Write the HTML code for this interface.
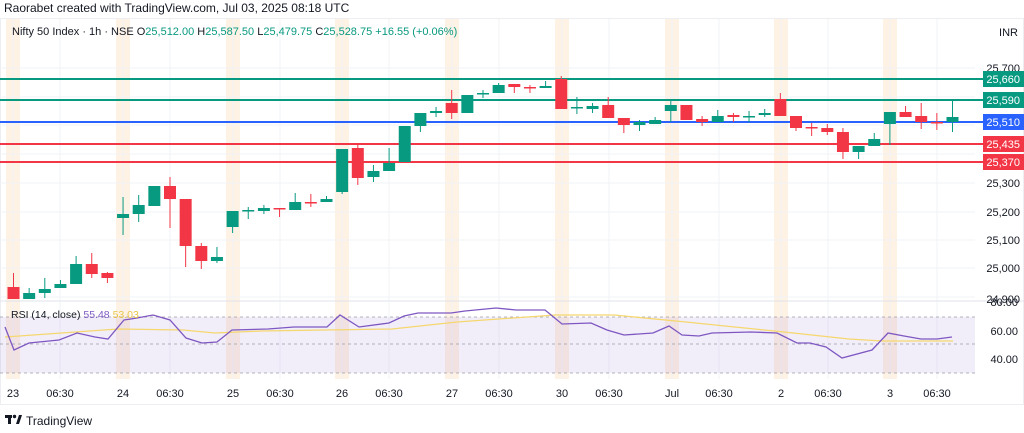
<!DOCTYPE html>
<html><head><meta charset="utf-8">
<style>
html,body{margin:0;padding:0;background:#fff;width:1024px;height:433px;overflow:hidden;font-family:"Liberation Sans",sans-serif;}
svg{position:absolute;left:0;top:0}
</style></head><body>
<svg id="s" width="1024" height="433" xmlns="http://www.w3.org/2000/svg"></svg>
<script>
const s=document.getElementById('s');let h='';
const G='#089981',R='#f23645';
h+=`<rect x="0.5" y="18.5" width="1023" height="386" fill="#fff" stroke="#eceef2"/>`;
const days=[13,123,233,342,452,562,672,781,890];
days.forEach(x=>{h+=`<rect x="${x-7}" y="19" width="14" height="360" fill="#fde9d4" opacity="0.6"/>`;});
[...days,...days.map(d=>d+47)].forEach(x=>{h+=`<line x1="${x}" y1="19" x2="${x}" y2="379" stroke="#f2f3f6"/>`;});
[68,97,125,154,183,212,240,268,297].forEach(y=>{h+=`<line x1="0" y1="${y}" x2="975" y2="${y}" stroke="#f2f3f6"/>`;});
h+=`<line x1="0" y1="301" x2="1024" y2="301" stroke="#e0e3eb"/>`;
h+=`<rect x="0" y="317" width="975" height="56" fill="#7e57c2" opacity="0.1"/>`;
[317,344,373].forEach(y=>{h+=`<line x1="0" y1="${y}" x2="975" y2="${y}" stroke="#9598a1" stroke-dasharray="3,3" opacity="0.7"/>`;});
[[79,G],[100,G],[122,'#2962ff'],[144,R],[162,R]].forEach(([y,c])=>{h+=`<line x1="0" y1="${y}" x2="983" y2="${y}" stroke="${c}" stroke-width="2"/>`;});
const C=[
['r',287,299,273,299],['g',293,299,288,299],['g',289,293,278,298],['g',284,288,280,288],['g',264,284,256,284],['r',264,274,253,278],['r',273,278,272,283],
['g',214,218,197,235],['g',205,214,195,222],['g',186,206,186,206],['r',186,199,177,228],['r',199,246,199,267],['r',246,261,243,269],['g',257,261,247,263],
['g',211,227,211,233],['g',210,211,207,219],['g',208,211,205,214],['r',208,209,208,217],['g',202,210,193,210],['r',202,203,194,207],['g',199,202,196,202],
['g',149,192,149,194],['r',148,178,143,185],['g',171,177,165,182],['g',163,171,148,171],['g',126,162,126,162],['g',113,126,113,132],['g',111,113,107,117],
['r',103,113,90,119],['g',95,113,95,113],['g',93,94,90,98],['g',85,93,83,93],['r',84,87,84,93],['r',87,88,85,93],['g',86,88,81,88],
['r',79,109,76,109],['g',107,108,97,114],['g',106,109,103,113],['r',105,118,97,118],['r',118,125,118,133],['g',122,125,120,131],['g',120,124,117,124],
['g',105,111,100,122],['r',105,120,105,120],['r',119,122,116,126],['g',116,122,110,122],['r',115,117,113,122],['g',116,117,111,122],['g',113,115,109,117],
['r',99,116,93,116],['r',116,128,116,131],['r',127,128,123,136],['r',128,132,124,135],['r',132,152,128,159],['g',146,152,146,159],['g',139,146,133,146],
['g',112,124,112,145],['r',112,117,106,117],['r',116,122,103,129],['r',122,123,113,130],['g',117,122,99,132]];
C.forEach((c,i)=>{const x=13.5+15.65*i,col=c[0]=='g'?G:R;const bh=Math.max(1.5,c[2]-c[1]);
h+=`<line x1="${x}" y1="${c[3]}" x2="${x}" y2="${c[4]}" stroke="${col}" stroke-width="1"/>`;
h+=`<rect x="${x-6}" y="${c[1]}" width="12" height="${bh}" fill="${col}"/>`;});
const rsi=[[5,327],[14,350],[29,343],[59,340],[77,333],[95,337],[108,339],[124,320],[137,318],[153,315],[170,320],[186,338],[202,343],[217,342],[232,330],[268,329],[294,327],[327,327],[340,315],[359,327],[389,323],[404,316],[418,313],[451,313],[465,311],[496,308],[516,310],[545,310],[562,324],[591,323],[607,330],[624,335],[653,333],[669,326],[682,335],[699,336],[712,333],[751,332],[777,333],[797,343],[810,343],[826,347],[842,358],[872,350],[888,333],[904,336],[921,339],[937,339],[952,337]];
const ma=[[5,337],[118,329],[183,330],[215,333],[261,331],[392,329],[457,322],[555,315],[614,315],[686,322],[784,332],[849,339],[882,341],[953,341]];
h+=`<polyline points="${ma.join(' ')}" fill="none" stroke="#f5d76e" stroke-width="1.3"/>`;
h+=`<polyline points="${rsi.join(' ')}" fill="none" stroke="#7e57c2" stroke-width="1.3"/>`;
const T=(x,y,t,c='#131722',sz=11,a='start')=>{h+=`<text x="${x}" y="${y}" fill="${c}" font-size="${sz}" text-anchor="${a}" font-family="Liberation Sans, sans-serif">${t}</text>`;};
T(4,12,'Raorabet created with TradingView.com, Jul 03, 2025 08:18 UTC','#131722',12);
h+=`<text x="12" y="35" font-size="11" font-family="Liberation Sans, sans-serif" fill="#131722">Nifty 50 Index · 1h · NSE  O<tspan fill="${G}">25,512.00</tspan>  H<tspan fill="${G}">25,587.50</tspan>  L<tspan fill="${G}">25,479.75</tspan>  C<tspan fill="${G}">25,528.75</tspan>  <tspan fill="${G}">+16.55 (+0.06%)</tspan></text>`;
h+=`<text x="11" y="318" font-size="10.5" font-family="Liberation Sans, sans-serif" fill="#131722">RSI (14, close) <tspan fill="#7e57c2">55.48</tspan> <tspan fill="#e8c547">53.03</tspan></text>`;
T(1018,36,'INR','#131722',11,'end');
[[68,'25,700'],[183,'25,300'],[212,'25,200'],[240,'25,100'],[268,'25,000'],[299,'24,900']].forEach(([y,t])=>T(1020,y+4,t,'#131722',11,'end'));
[[79,G,'25,660'],[100,G,'25,590'],[122,'#2962ff','25,510'],[144,R,'25,435'],[162,R,'25,370']].forEach(([y,c,t])=>{h+=`<rect x="983" y="${y-8}" width="41" height="16" fill="${c}"/>`;T(1020,y+4,t,'#fff',11,'end');});
[[302,'80.00'],[331,'60.00'],[359,'40.00']].forEach(([y,t])=>T(1018,y+4,t,'#131722',11,'end'));
const lb=['23','24','25','26','27','30','Jul','2','3'];
days.forEach((d,i)=>{T(d,397,lb[i],'#131722',11,'middle');T(d+47,397,'06:30','#131722',11,'middle');});
h+=`<rect x="5" y="415" width="7" height="3" fill="#131722"/><rect x="8" y="415" width="3" height="9" fill="#131722"/><circle cx="14.5" cy="416.5" r="1.7" fill="#131722"/><path d="M16 424 L19 415 L22 415 L19 424 Z" fill="#131722"/>`;
T(26,425,'TradingView','#131722',12);
s.innerHTML=h;
</script>
</body></html>
